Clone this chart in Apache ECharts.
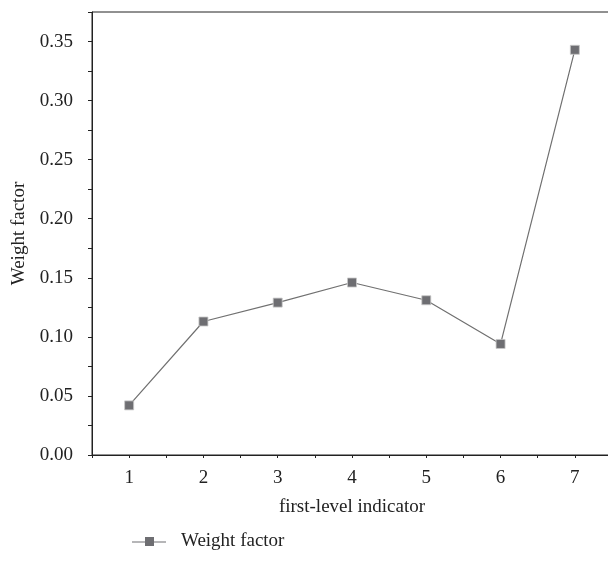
<!DOCTYPE html>
<html>
<head>
<meta charset="utf-8">
<script src="https://cdn.jsdelivr.net/npm/echarts@6/dist/echarts.min.js"></script>
<style>
  html, body { margin: 0; padding: 0; background: #fff; overflow: hidden; }
  #main { width: 612px; height: 572px; }
</style>
</head>
<body>
<div id="main"></div>
<script>
// indicator categories and weights
const categories = ['1', '2', '3', '4', '5', '6', '7'];
const weights = [0.042, 0.113, 0.129, 0.146, 0.131, 0.094, 0.343];
const seriesName = 'Weight factor';

const font = 'Liberation Serif';
const ink = '#222';
const fs = 19;

// the plot frame runs past the right edge of the window, as in the figure
const chart = echarts.init(document.getElementById('main'));

const option = {
    animation: false,
    backgroundColor: '#fff',
    grid: {
        left: 92,
        top: 12,
        right: 0,
        bottom: 117,
        show: true,
        borderColor: ink,
        borderWidth: 1
    },
    legend: {
        left: 127,
        top: 527,
        itemWidth: 34,
        itemHeight: 9,
        icon: 'path://M0,4.5L13,4.5L13,0L22,0L22,4.5L34,4.5L34,5.5L22,5.5L22,9L13,9L13,5.5L0,5.5Z',
        itemStyle: { color: '#6e6e72', borderWidth: 0 },
        textStyle: { fontFamily: font, fontSize: fs, color: ink, padding: [0, 0, 0, 10] },
        data: [seriesName]
    },
    xAxis: [
        {
            type: 'category',
            data: categories,
            boundaryGap: true,
            name: 'first-level indicator',
            nameLocation: 'middle',
            nameGap: 43,
            nameTextStyle: { fontFamily: font, fontSize: fs, color: ink },
            axisLine: { lineStyle: { color: ink, width: 1 } },
            axisTick: { alignWithLabel: true, length: 5, lineStyle: { color: ink } },
            axisLabel: { fontFamily: font, fontSize: fs, color: ink, margin: 14 },
            splitLine: { show: false }
        },
        {
            // half-step ticks between the categories
            type: 'value',
            position: 'bottom',
            min: 0.5,
            max: 7.5,
            interval: 0.5,
            axisLine: { show: false },
            axisTick: { length: 3, lineStyle: { color: ink } },
            axisLabel: { show: false },
            splitLine: { show: false }
        }
    ],
    yAxis: {
        type: 'value',
        min: 0,
        max: 0.375,
        interval: 0.025,
        name: 'Weight factor',
        nameLocation: 'middle',
        nameGap: 62,
        nameTextStyle: { fontFamily: font, fontSize: fs, color: ink },
        axisLine: { show: true, lineStyle: { color: ink, width: 1 } },
        axisTick: { show: true, length: 4, lineStyle: { color: ink } },
        axisLabel: {
            fontFamily: font,
            fontSize: fs,
            color: ink,
            margin: 19,
            formatter: function (v) {
                const k = Math.round(v / 0.025);
                if (k % 2 !== 0 || k > 14) return '';
                return (k * 0.025).toFixed(2);
            }
        },
        splitLine: { show: false }
    },
    series: [
        {
            name: seriesName,
            type: 'line',
            xAxisIndex: 0,
            data: weights,
            symbol: 'rect',
            symbolSize: 9,
            color: '#6e6e72',
            lineStyle: { color: '#707070', width: 1.2 },
            itemStyle: { color: '#6e6e72', borderColor: '#c8c8c8', borderWidth: 0.8 }
        }
    ]
};

chart.setOption(option);
</script>
</body>
</html>
